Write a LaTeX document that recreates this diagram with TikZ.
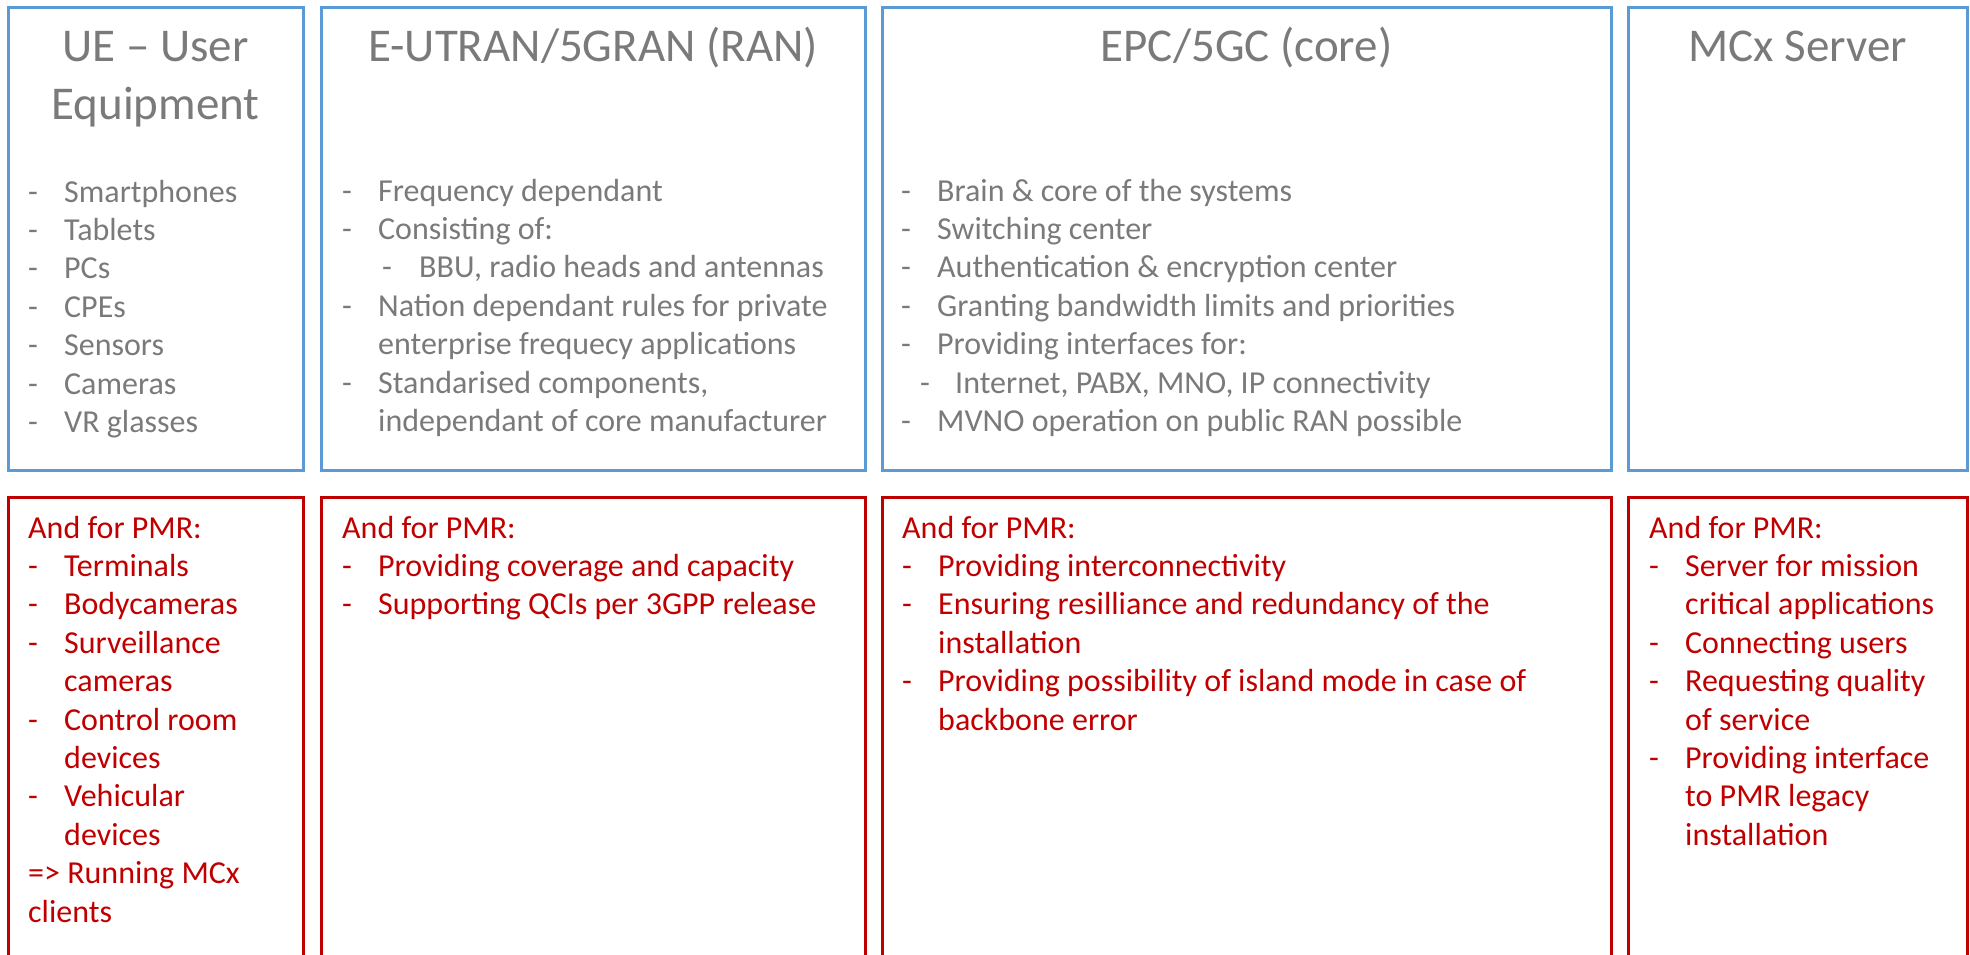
\documentclass[tikz,border=0pt]{standalone}
\usepackage{fontspec}
\setmainfont{Carlito}
\definecolor{boxblue}{HTML}{5B9BD5}
\definecolor{txtgray}{HTML}{7A7A7A}
\definecolor{pmrred}{HTML}{C00000}
\newcommand\dashi{\makebox[36pt][l]{-}}
\newcommand\ind{\hspace*{36pt}}
\tikzset{
  frame/.style={draw, line width=3pt, inner sep=0pt, outer sep=0pt, anchor=north west, fill=none},
  topbox/.style={frame, draw=boxblue},
  pmrbox/.style={frame, draw=pmrred},
  titletext/.style={anchor=base, inner sep=0pt, text=txtgray, font=\fontsize{47pt}{58pt}\selectfont},
  bodytext/.style={anchor=base west, inner sep=0pt, text=txtgray, font=\fontsize{32pt}{38.4pt}\selectfont},
  pmrtext/.style={bodytext, text=pmrred}
}
\begin{document}
\begin{tikzpicture}[x=1pt, y=-1pt]
\useasboundingbox (0,0) rectangle (1970,955);
\begin{scope}
\clip (0,0) rectangle (1970,955);
% top boxes
\node[topbox, minimum width=295pt, minimum height=462pt] (ue) at (8,8) {};
\node[topbox, minimum width=544pt, minimum height=462pt] (ran) at (321,8) {};
\node[topbox, minimum width=729pt, minimum height=462pt] (core) at (882,8) {};
\node[topbox, minimum width=339pt, minimum height=462pt] (mcx) at (1628,8) {};
% bottom boxes
\node[pmrbox, minimum width=295pt, minimum height=480pt] (uepmr) at (8,497) {};
\node[pmrbox, minimum width=544pt, minimum height=480pt] (ranpmr) at (321,497) {};
\node[pmrbox, minimum width=729pt, minimum height=480pt] (corepmr) at (882,497) {};
\node[pmrbox, minimum width=339pt, minimum height=480pt] (mcxpmr) at (1628,497) {};
\end{scope}
% titles
\node[titletext] (uetitle) at (155.5,62) {\parbox[t]{290pt}{\centering UE – User\\Equipment}};
\node[titletext] (rantitle) at (593,62) {E-UTRAN/5GRAN (RAN)};
\node[titletext] (coretitle) at (1246.5,62) {EPC/5GC (core)};
\node[titletext] (mcxtitle) at (1798,62) {MCx Server};
% top lists
\node[bodytext] (uelist) at (28,202) {\parbox[t]{270pt}{\raggedright
\dashi Smartphones\\
\dashi Tablets\\
\dashi PCs\\
\dashi CPEs\\
\dashi Sensors\\
\dashi Cameras\\
\dashi VR glasses}};
\node[bodytext] (ranlist) at (342,201) {\parbox[t]{520pt}{\raggedright
\dashi Frequency dependant\\
\dashi Consisting of:\\
\hspace*{40pt}\makebox[37pt][l]{-}BBU, radio heads and antennas\\
\dashi Nation dependant rules for private\\
\ind enterprise frequecy applications\\
\dashi Standarised components,\\
\ind independant of core manufacturer}};
\node[bodytext] (corelist) at (901,201) {\parbox[t]{700pt}{\raggedright
\dashi Brain \& core of the systems\\
\dashi Switching center\\
\dashi Authentication \& encryption center\\
\dashi Granting bandwidth limits and priorities\\
\dashi Providing interfaces for:\\
\hspace*{19pt}\makebox[35pt][l]{-}Internet, PABX, MNO, IP connectivity\\
\dashi MVNO operation on public RAN possible}};
% PMR lists
\node[pmrtext] (uepmrlist) at (28,538) {\parbox[t]{270pt}{\raggedright
And for PMR:\\
\dashi Terminals\\
\dashi Bodycameras\\
\dashi Surveillance\\
\ind cameras\\
\dashi Control room\\
\ind devices\\
\dashi Vehicular\\
\ind devices\\
=> Running MCx\\
clients}};
\node[pmrtext] (ranpmrlist) at (342,538) {\parbox[t]{520pt}{\raggedright
And for PMR:\\
\dashi Providing coverage and capacity\\
\dashi Supporting QCIs per 3GPP release}};
\node[pmrtext] (corepmrlist) at (902,538) {\parbox[t]{700pt}{\raggedright
And for PMR:\\
\dashi Providing interconnectivity\\
\dashi Ensuring resilliance and redundancy of the\\
\ind installation\\
\dashi Providing possibility of island mode in case of\\
\ind backbone error}};
\node[pmrtext] (mcxpmrlist) at (1649,538) {\parbox[t]{315pt}{\raggedright
And for PMR:\\
\dashi Server for mission\\
\ind critical applications\\
\dashi Connecting users\\
\dashi Requesting quality\\
\ind of service\\
\dashi Providing interface\\
\ind to PMR legacy\\
\ind installation}};
\end{tikzpicture}
\end{document}
